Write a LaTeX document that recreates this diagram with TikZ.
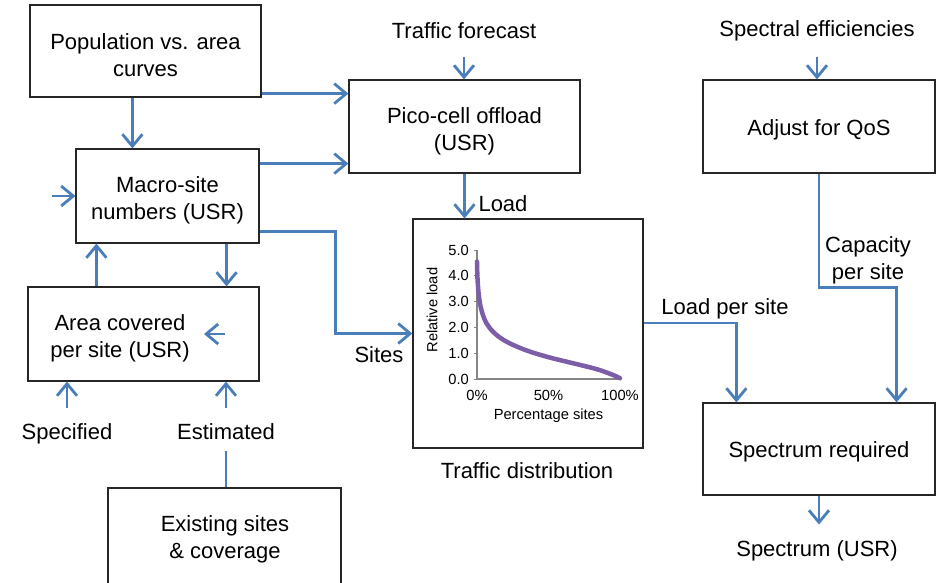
\documentclass[tikz,border=0pt]{standalone}
\usepackage{fontspec}
\setmainfont{Liberation Sans}
\usetikzlibrary{arrows.meta}
\definecolor{flowc}{HTML}{4A7EBB}
\definecolor{curvec}{HTML}{7B5EA7}
\definecolor{axisc}{HTML}{868686}
\begin{document}
\begin{tikzpicture}[x=1pt,y=-1pt,
  box/.style={draw=black!85,line width=1.2pt,inner sep=0pt},
  lab/.style={inner sep=0pt,align=center,font=\fontsize{22}{27}\selectfont,
    text height=16pt,text depth=4.6pt},
  lab2/.style={inner sep=0pt,align=center,font=\fontsize{22}{27}\selectfont},
  flow/.style={draw=flowc,line width=2.8pt,
    -{Straight Barb[length=12pt,width=20pt,line width=2.8pt]}},
  plain/.style={draw=flowc,line width=2.8pt},
  small/.style={inner sep=0pt,font=\fontsize{14.7}{17}\selectfont}]
\useasboundingbox (0,0) rectangle (938,582);
% boxes
\node[box,minimum width=231pt,minimum height=92pt] (pop) at (145.5,51) {};
\node[box,minimum width=183pt,minimum height=94pt] (macro) at (167.5,196) {};
\node[box,minimum width=231pt,minimum height=94pt] (area) at (143.5,334) {};
\node[box,minimum width=233pt,minimum height=96pt] (exist) at (224.5,536) {};
\node[box,minimum width=231pt,minimum height=93pt] (pico) at (464.5,126.5) {};
\node[box,minimum width=230pt,minimum height=229pt] (chart) at (528,333.5) {};
\node[box,minimum width=232pt,minimum height=93pt] (qos) at (819,126.5) {};
\node[box,minimum width=232pt,minimum height=92pt] (spec) at (819,449) {};
% box texts
\node[lab2] (popt) at ([yshift=-4pt]pop.center) {Population vs. area\\curves};
\node[lab2] (macrot) at ([yshift=-4pt]macro.center) {Macro-site\\numbers (USR)};
\node[lab2] (areat) at (120,338) {Area covered\\per site (USR)};
\node[lab2] (existt) at (225,539) {Existing sites\\\& coverage};
\node[lab2] (picot) at ([yshift=-4.5pt]pico.center) {Pico-cell offload\\(USR)};
\node[lab] (qost) at ([yshift=-3pt]qos.center) {Adjust for QoS};
\node[lab] (spect) at ([yshift=-3pt]spec.center) {Spectrum required};
% labels
\node[lab] (tf) at (464,33) {Traffic forecast};
\node[lab] (se) at (817,31) {Spectral efficiencies};
\node[lab] (load) at (503,206) {Load};
\node[lab] (sites) at (379,357) {Sites};
\node[lab] (specd) at (67,434) {Specified};
\node[lab] (est) at (226,434) {Estimated};
\node[lab] (td) at (527,473) {Traffic distribution};
\node[lab] (lps) at (725,309) {Load per site};
\node[lab2] (cap) at (868,260) {Capacity\\per site};
\node[lab] (usr) at (817,551) {Spectrum (USR)};
% connectors
\draw[flow,shorten <=13pt] (tf.south) -- (tf.south |- pico.north);
\draw[flow,shorten <=15pt] (se.south) -- (se.south |- qos.north);
\coordinate (p1) at ([yshift=4pt]pop.south east);
\draw[flow] (p1) -- (p1 -| pico.west);
\coordinate (p2) at ([yshift=10pt]pico.south west);
\draw[flow] (p2 -| macro.east) -- (p2);
\coordinate (m3) at ([yshift=12pt]macro.south east);
\coordinate (bend1) at ([xshift=-77pt]chart.west);
\draw[flow] (m3) -| (bend1) -- (chart.west);
\coordinate (p4) at ([xshift=57pt]macro.north west);
\draw[flow] (p4 |- pop.south) -- (p4);
\draw[flow] ([xshift=-23pt]macro.west) -- (macro.west);
\coordinate (p5) at ([xshift=21pt]macro.south west);
\draw[flow] (p5 |- area.north) -- (p5);
\coordinate (p6) at ([xshift=-33pt]macro.south east);
\draw[flow] (p6) -- (p6 |- area.north);
\draw[flow] ([xshift=81.5pt]area.center) -- ([xshift=60.5pt]area.center);
\draw[flow,shorten <=16pt] (specd.north) -- (specd.north |- area.south);
\draw[flow,shorten <=16pt] (est.north) -- (est.north |- area.south);
\draw[plain,shorten >=6pt] (est.south |- exist.north) -- (est.south);
\draw[flow] (pico.south) -- (pico.south |- chart.north);
\coordinate (c1) at ([yshift=10.5pt]chart.east);
\coordinate (c2) at ([xshift=34pt]spec.north west);
\draw[flow] (c1) -| (c2);
\coordinate (q2) at ([xshift=-39pt]spec.north east);
\draw[flow] (qos.south) -- ++(0,114) -| (q2);
\draw[flow,shorten >=16pt] (spec.south) -- (spec.south |- usr.north);
% chart
\begin{scope}[shift={(477,379)},x=143pt,y=25.8pt]
  \draw[axisc,line width=1.2pt] (0,5) -- (0,0) -- (1,0);
  \foreach \v in {0,1,2,3,4,5}{
    \draw[axisc,line width=1pt] (0,\v) -- ++(-3pt,0);
    \node[small,anchor=east,xshift=-8pt] (yl\v) at (0,\v) {\v.0};
  }
  \node[small,yshift=-16pt] (x0) at (0,0) {0\%};
  \node[small,yshift=-16pt] (x50) at (0.5,0) {50\%};
  \node[small,yshift=-16pt] (x100) at (1,0) {100\%};
  \node[small,yshift=-37pt] (xt) at (0.5,0) {Percentage sites};
  \node[small,rotate=90] (yt) at (-45pt,2.67) {Relative load};
  \draw[curvec,line width=4.5pt,line cap=round] plot[smooth,tension=0.6] coordinates
    {(0,4.55) (0.005,3.75) (0.02,2.95) (0.05,2.35) (0.09,1.97) (0.15,1.65)
     (0.23,1.38) (0.35,1.1) (0.49,0.86) (0.62,0.68) (0.74,0.52) (0.85,0.36)
     (0.95,0.16) (1.0,0.03)};
\end{scope}
\end{tikzpicture}
\end{document}
